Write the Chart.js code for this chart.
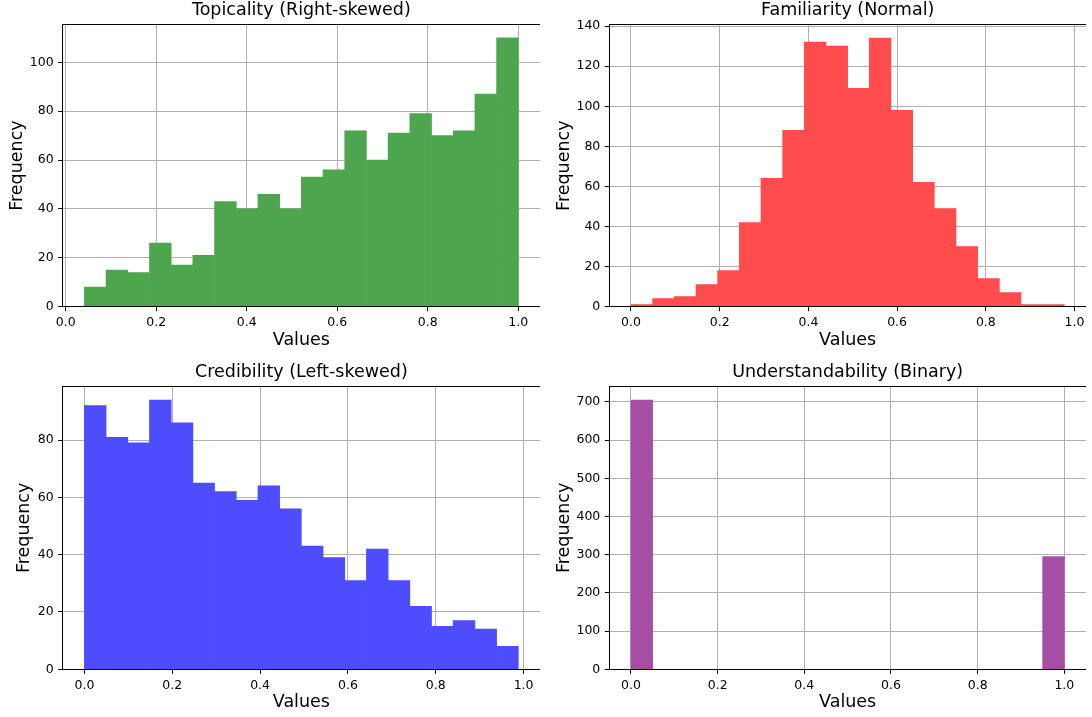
<!DOCTYPE html>
<html>
<head>
<meta charset="utf-8">
<script src="https://cdn.jsdelivr.net/npm/chart.js@4.4.1/dist/chart.umd.min.js"></script>
<style>
  html, body { margin: 0; padding: 0; background: #fff; width: 1092px; height: 717px; overflow: hidden; }
  canvas { position: absolute; }
</style>
</head>
<body>
<canvas id="topicality" width="540" height="358" style="left:0px;top:0px"></canvas>
<canvas id="familiarity" width="540" height="358" style="left:546px;top:0px"></canvas>
<canvas id="credibility" width="540" height="359" style="left:0px;top:358px"></canvas>
<canvas id="understandability" width="540" height="359" style="left:546px;top:358px"></canvas>
<script>
// Histogram counts, 20 equal-width bins per metric
const topicalityCounts = [8, 15, 14, 26, 17, 21, 43, 40, 46, 40, 53, 56, 72, 60, 71, 79, 70, 72, 87, 110];
const familiarityCounts = [1, 4, 5, 11, 18, 42, 64, 88, 132, 130, 109, 134, 98, 62, 49, 30, 14, 7, 1, 1];
const credibilityCounts = [92, 81, 79, 94, 86, 65, 62, 59, 64, 56, 43, 39, 31, 42, 31, 22, 15, 17, 14, 8];
const understandabilityCounts = [705, 0, 0, 0, 0, 0, 0, 0, 0, 0, 0, 0, 0, 0, 0, 0, 0, 0, 0, 295];

// Lowest and highest observed value of each metric (the span the bins cover)
const topicalityRange = [0.0414, 1.0];
const familiarityRange = [0.0, 0.977];
const credibilityRange = [0.0, 0.988];
const understandabilityRange = [0.0, 1.0];

// Panel titles and shared axis titles
const panelTitles = ['Topicality (Right-skewed)', 'Familiarity (Normal)', 'Credibility (Left-skewed)', 'Understandability (Binary)'];
const xAxisTitle = 'Values';
const yAxisTitle = 'Frequency';

// Tick spacing
const xTickStep = 0.2;
const yTickSteps = [20, 20, 20, 100];

const FONT = 'DejaVu Sans';
const tickFont = { family: FONT, size: 12.5, lineHeight: 1.2 };
const labelFont = { family: FONT, size: 17.5, weight: 'normal', lineHeight: 1.2 };

// Closed box around each plot area (top and right spines)
const frame = {
  id: 'frame',
  afterDraw(chart) {
    const { ctx, chartArea: a } = chart;
    const al = v => Math.round(v - 0.5) + 0.5;
    ctx.save();
    ctx.strokeStyle = '#000';
    ctx.lineWidth = 1;
    const l = al(a.left), r = al(a.right), t = al(a.top), b = al(a.bottom);
    ctx.strokeRect(l, t, r - l, b - t);
    ctx.restore();
  }
};

function histogram(id, layout, title, counts, range, color, yStep) {
  const n = counts.length;
  const span = range[1] - range[0];
  const w = span / n;
  const points = counts.map((c, i) => ({ x: range[0] + (i + 0.5) * w, y: c }));
  const canvas = document.getElementById(id);
  const H = canvas.height;

  new Chart(canvas, {
    type: 'bar',
    data: {
      datasets: [{
        data: points,
        backgroundColor: color,
        borderWidth: 0,
        barPercentage: 1,
        categoryPercentage: 1
      }]
    },
    options: {
      responsive: false,
      animation: false,
      devicePixelRatio: 1,
      layout: { padding: 0 },
      plugins: {
        legend: { display: false },
        tooltip: { enabled: false },
        title: {
          display: true,
          text: title,
          fullSize: false,
          color: '#000',
          font: labelFont,
          padding: layout.titlePad
        }
      },
      scales: {
        x: {
          type: 'linear',
          position: 'bottom',
          offset: false,
          min: range[0] - 0.05 * span,
          max: range[1] + 0.05 * span,
          z: 1,
          ticks: {
            stepSize: xTickStep,
            includeBounds: false,
            autoSkip: false,
            maxRotation: 0,
            color: '#000',
            font: tickFont,
            padding: 4.5,
            callback: v => Number(v).toFixed(1)
          },
          grid: { offset: false, color: '#b0b0b0', lineWidth: 1, drawTicks: true, tickLength: 4.5, tickColor: '#000', tickWidth: 1 },
          border: { display: true, color: '#000', width: 1 },
          title: { display: true, text: xAxisTitle, color: '#000', font: labelFont, padding: { top: 0, bottom: layout.xTitlePad } },
          afterFit: s => { s.height = H - layout.areaBottom; s.paddingLeft = 0; s.paddingRight = 0; }
        },
        y: {
          type: 'linear',
          position: 'left',
          min: 0,
          max: Math.max(...counts) * 1.05,
          z: 1,
          ticks: {
            stepSize: yStep,
            includeBounds: false,
            color: '#000',
            font: tickFont,
            padding: 4.5,
            callback: v => String(Math.round(v))
          },
          grid: { color: '#b0b0b0', lineWidth: 1, drawTicks: true, tickLength: 4.5, tickColor: '#000', tickWidth: 1 },
          border: { display: true, color: '#000', width: 1 },
          title: { display: true, text: yAxisTitle, color: '#000', font: labelFont, padding: { top: layout.yTitlePad, bottom: 0 } },
          afterFit: s => { s.width = layout.areaLeft; s.paddingTop = 0; s.paddingBottom = 0; }
        }
      }
    },
    plugins: [frame]
  });
}

// Plot-area placement inside each canvas
const topRow = { areaLeft: 62.7, areaBottom: 306.7, titlePad: { top: 0, bottom: 3.4 }, xTitlePad: 7.5 };
const bottomRow = { areaLeft: 62.7, areaBottom: 311.3, titlePad: { top: 4, bottom: 3.5 }, xTitlePad: 4 };

histogram('topicality', Object.assign({}, topRow, { yTitlePad: 6.5 }), panelTitles[0],
  topicalityCounts, topicalityRange, 'rgb(77,166,77)', yTickSteps[0]);
histogram('familiarity', Object.assign({}, topRow, { areaLeft: 63.3, yTitlePad: 7.5, titlePad: { top: 0, bottom: 3.7 } }), panelTitles[1],
  familiarityCounts, familiarityRange, 'rgb(255,77,77)', yTickSteps[1]);
histogram('credibility', Object.assign({}, bottomRow, { yTitlePad: 14.2 }), panelTitles[2],
  credibilityCounts, credibilityRange, 'rgb(77,77,255)', yTickSteps[2]);
histogram('understandability', Object.assign({}, bottomRow, { areaLeft: 63.3, yTitlePad: 7.5 }), panelTitles[3],
  understandabilityCounts, understandabilityRange, 'rgb(166,77,166)', yTickSteps[3]);
</script>
</body>
</html>
